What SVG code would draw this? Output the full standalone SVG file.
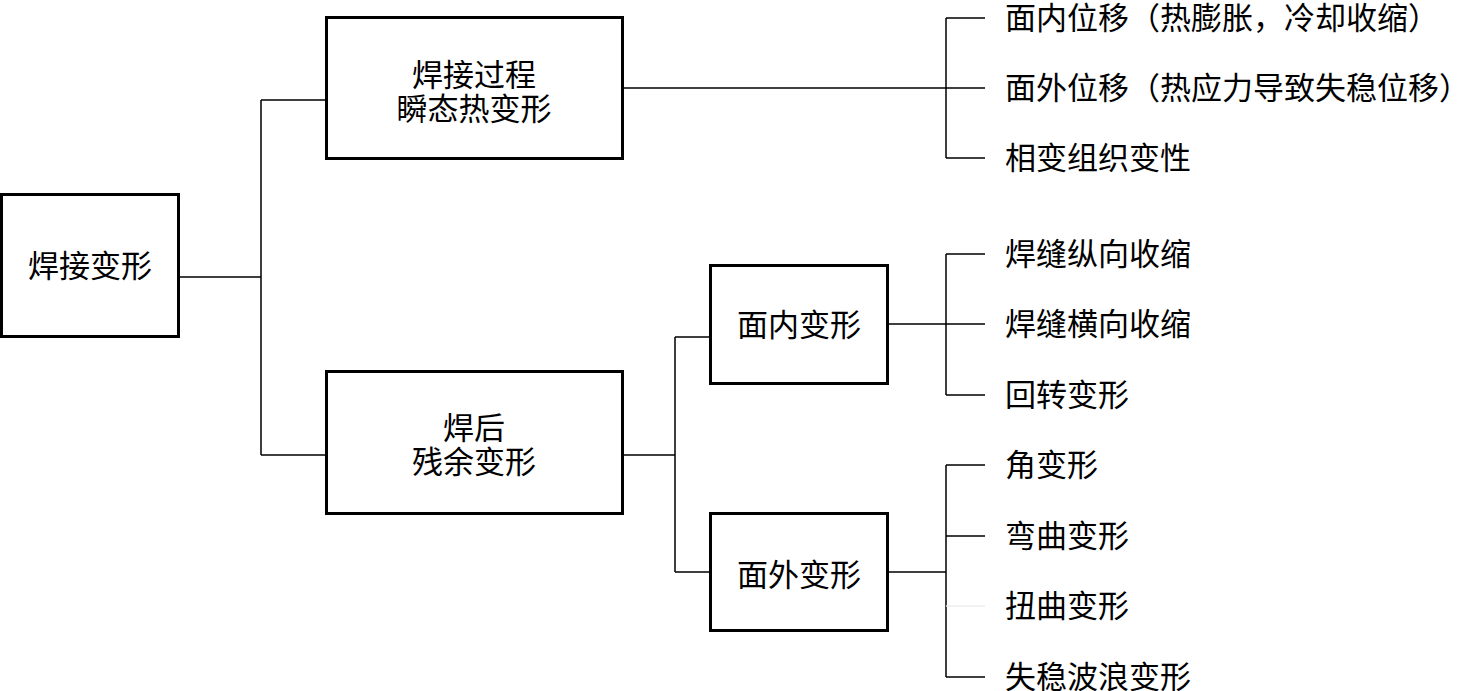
<svg xmlns="http://www.w3.org/2000/svg" width="1462" height="691" viewBox="0 0 1462 691">
<style>
.box{fill:#fff;stroke:#000;stroke-width:3}
.ln{fill:none;stroke:#000;stroke-width:1.5}
.faint{fill:none;stroke:#eee;stroke-width:1.5}
text{font-family:"Noto Sans CJK SC","Noto Sans CJK JP",sans-serif;font-size:31px;fill:#000}
.c{text-anchor:middle}
</style>
<rect width="1462" height="691" fill="#fff"/>
<g id="connectors">
<path class="ln" d="M178 277H261M261 100V455M261 100H326M261 455H326"/>
<path class="ln" d="M622 88H985M946 18V158M946 18H985M946 158H985"/>
<path class="ln" d="M622 455H675M675 337V572M675 337H710M675 572H710"/>
<path class="ln" d="M887 324H985M946 254V395M946 254H985M946 395H985"/>
<path class="ln" d="M887 572H946M946 465V677M946 465H985M946 536H985M946 677H985"/>
<path class="faint" d="M946 606H985"/>
</g>
<g id="root"><rect class="box" x="1.5" y="194.5" width="177" height="142"/><text class="c" x="90" y="277">焊接变形</text></g>
<g id="transient"><rect class="box" x="326.5" y="17.5" width="296" height="141"/><text class="c" x="474" y="86">焊接过程</text><text class="c" x="474" y="120">瞬态热变形</text></g>
<g id="residual"><rect class="box" x="326.5" y="371.5" width="296" height="142"/><text class="c" x="474" y="439">焊后</text><text class="c" x="474" y="473">残余变形</text></g>
<g id="inplane"><rect class="box" x="710.5" y="265.5" width="177" height="118"/><text class="c" x="799" y="336">面内变形</text></g>
<g id="outplane"><rect class="box" x="710.5" y="513.5" width="177" height="117"/><text class="c" x="799" y="586">面外变形</text></g>
<g id="leaf1"><text x="1005" y="29">面内位移（热膨胀，冷却收缩）</text></g>
<g id="leaf2"><text x="1005" y="99">面外位移（热应力导致失稳位移）</text></g>
<g id="leaf3"><text x="1005" y="169">相变组织变性</text></g>
<g id="leaf4"><text x="1005" y="265">焊缝纵向收缩</text></g>
<g id="leaf5"><text x="1005" y="335">焊缝横向收缩</text></g>
<g id="leaf6"><text x="1005" y="406">回转变形</text></g>
<g id="leaf7"><text x="1005" y="476">角变形</text></g>
<g id="leaf8"><text x="1005" y="547">弯曲变形</text></g>
<g id="leaf9"><text x="1005" y="617">扭曲变形</text></g>
<g id="leaf10"><text x="1005" y="688">失稳波浪变形</text></g>
</svg>
